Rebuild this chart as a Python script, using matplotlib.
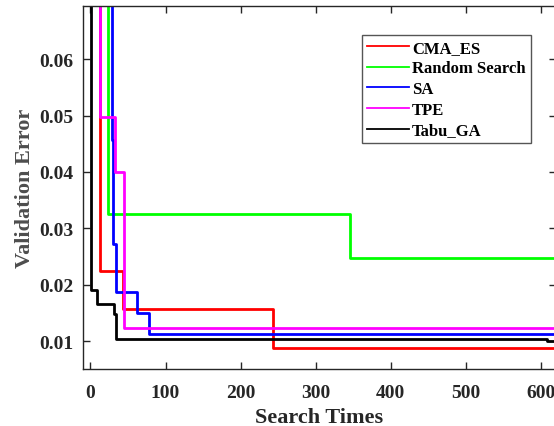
import matplotlib
matplotlib.use("Agg")
from matplotlib import pyplot as plt

# step curves: best validation error so far vs. search times
cma_x = [0, 12.5, 43.5, 243, 620]
cma_y = [0.080, 0.0224, 0.0158, 0.0089, 0.0089]

rand_x = [0, 23, 346, 620]
rand_y = [0.080, 0.0325, 0.0248, 0.0248]

sa_x = [0, 28.4, 30.6, 33.7, 62, 78.6, 620]
sa_y = [0.080, 0.0457, 0.0272, 0.0188, 0.0150, 0.0113, 0.0113]

tpe_x = [0, 13, 32.4, 44.4, 620]
tpe_y = [0.080, 0.0498, 0.0400, 0.0123, 0.0123]

tabu_x = [0, 1, 9, 31.5, 34, 608, 620]
tabu_y = [0.080, 0.0191, 0.0167, 0.0149, 0.0105, 0.0101, 0.0101]

names = ["CMA_ES", "Random Search", "SA", "TPE", "Tabu_GA"]
colors = ["#ff0000", "#00ff00", "#0000ff", "#ff00ff", "#000000"]

plt.rcParams["font.family"] = ["Liberation Serif", "DejaVu Serif"]
plt.rcParams["font.weight"] = "bold"

fig = plt.figure(figsize=(5.54, 4.27), dpi=100)
ax = fig.add_axes([0.1498, 0.1335, 0.8533, 0.8501])

series = [(cma_x, cma_y), (rand_x, rand_y), (sa_x, sa_y), (tpe_x, tpe_y), (tabu_x, tabu_y)]
for (xs, ys), name, color in zip(series, names, colors):
    ax.step(xs, ys, where="post", color=color, lw=2, label=name)

ax.set_xlim(-10, 620)
ax.set_ylim(0.0051, 0.0694)
ax.set_xticks([0, 100, 200, 300, 400, 500, 600])
ax.set_yticks([0.01, 0.02, 0.03, 0.04, 0.05, 0.06])
ax.tick_params(direction="in", top=True, right=True, length=5, width=1,
               labelsize=14, colors="#262626")
ax.tick_params(axis="x", pad=11)
ax.tick_params(axis="y", pad=7)
for lbl in ax.get_xticklabels() + ax.get_yticklabels():
    lbl.set_fontweight("bold")
for sp in ax.spines.values():
    sp.set_color("#262626")
    sp.set_linewidth(1)

ax.set_xlabel("Search Times", fontsize=16, fontweight="bold", color="#262626", labelpad=4)
ax.set_ylabel("Validation Error", fontsize=16, fontweight="bold", color="#4d4d4d", labelpad=3)

leg = ax.legend(loc="upper left", bbox_to_anchor=(0.590, 0.921),
                prop={"weight": "bold", "size": 12}, handlelength=2.5,
                handletextpad=0.2, labelspacing=0.28, borderpad=0.3,
                borderaxespad=0, fancybox=False, framealpha=1)
leg.get_frame().set_edgecolor("#555555")
leg.get_frame().set_linewidth(1)
for line in leg.get_lines():
    line.set_linewidth(1.3)

fig.savefig("out.png", dpi=100)
